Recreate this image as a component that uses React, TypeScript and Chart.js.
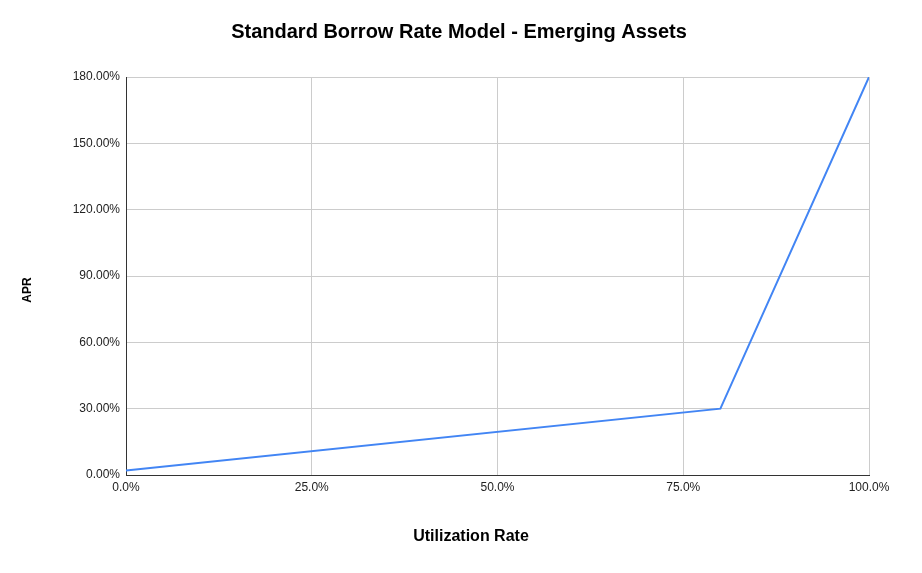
import React, { useEffect, useRef } from "react";
import { Chart, registerables } from "chart.js";

Chart.register(...registerables);

const utilization = [0, 80, 100];
const apr = [2, 30, 180];
const xTicks = [0, 25, 50, 75, 100];
const yTicks = [0, 30, 60, 90, 120, 150, 180];
const chartTitle = "Standard Borrow Rate Model - Emerging Assets";
const xTitle = "Utilization Rate";
const yTitle = "APR";

const font = "Arial, 'Liberation Sans', sans-serif";

const titlesPlugin = {
  id: "titlesPlugin",
  afterDraw(chart: any) {
    const c = chart.ctx;
    c.save();
    c.fillStyle = "#000";
    c.textAlign = "center";
    c.textBaseline = "middle";
    c.font = `bold 20px ${font}`;
    c.fillText(chartTitle, 459, 32);
    c.font = `bold 16px ${font}`;
    c.fillText(xTitle, 471, 537);
    c.translate(28, 290);
    c.rotate(-Math.PI / 2);
    c.font = `bold 12px ${font}`;
    c.fillText(yTitle, 0, 0);
    c.restore();
  },
};

export default function App() {
  const ref = useRef<HTMLCanvasElement | null>(null);
  useEffect(() => {
    document.body.style.margin = "0";
    const ctx = ref.current!;
    const chart = new Chart(ctx, {
      type: "line",
      data: {
        datasets: [
          {
            label: yTitle,
            data: utilization.map((u, i) => ({ x: u, y: apr[i] })),
            borderColor: "#4285f4",
            backgroundColor: "#4285f4",
            borderWidth: 2,
            pointRadius: 0,
            tension: 0,
          },
        ],
      },
      plugins: [titlesPlugin],
      options: {
        responsive: false,
        animation: false,
        layout: { padding: { left: 0, right: 53, top: 77, bottom: 0 } },
        plugins: {
          legend: { display: false },
          tooltip: { enabled: false },
          title: { display: false },
        },
        scales: {
          x: {
            type: "linear",
            min: 0,
            max: 100,
            afterBuildTicks: (s: any) => {
              s.ticks = xTicks.map((v) => ({ value: v }));
            },
            afterFit: (s: any) => {
              s.height = 573 - 475;
            },
            ticks: {
              color: "#222",
              font: { family: font, size: 12 },
              padding: 5,
              maxRotation: 0,
              callback: (v: any) => Number(v).toFixed(1) + "%",
            },
            grid: { color: "#cccccc", drawTicks: false },
            border: { color: "#333", width: 1 },
          },
          y: {
            type: "linear",
            min: 0,
            max: 180,
            afterBuildTicks: (s: any) => {
              s.ticks = yTicks.map((v) => ({ value: v }));
            },
            afterFit: (s: any) => {
              s.width = 126;
            },
            ticks: {
              color: "#222",
              font: { family: font, size: 12 },
              padding: 6,
              callback: (v: any) => Number(v).toFixed(2) + "%",
            },
            grid: { color: "#cccccc", drawTicks: false },
            border: { color: "#333", width: 1 },
          },
        },
      },
    });
    return () => chart.destroy();
  }, []);
  return <canvas ref={ref} width={922} height={573} style={{ display: "block" }} />;
}
